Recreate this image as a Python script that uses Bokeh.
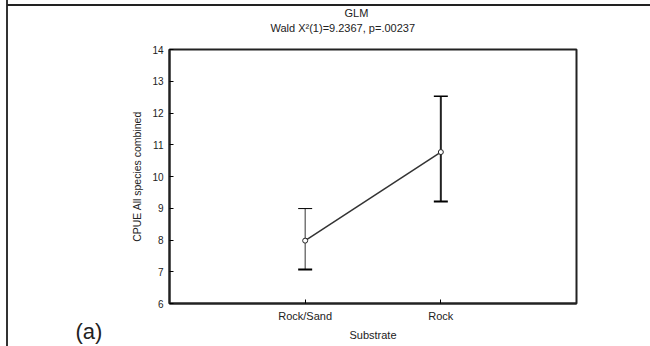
from bokeh.plotting import figure
from bokeh.models import Whisker, ColumnDataSource, FixedTicker, Title
from bokeh.embed import file_html
from bokeh.resources import INLINE

categories = ["Rock/Sand", "Rock"]
means = [7.98, 10.77]
upper = [8.99, 12.53]
lower = [7.07, 9.21]
y_ticks = [6, 7, 8, 9, 10, 11, 12, 13, 14]

xpos = [1, 2]
src = ColumnDataSource(dict(x=xpos, m=means, up=upper, lo=lower))

FONT = "Liberation Sans"
FL, FB = 169, 303  # frame left / bottom in canvas px

p = figure(width=650, height=346, output_backend="svg", toolbar_location=None,
           x_range=(0, 3), y_range=(6, 14),
           min_border_left=FL, min_border_right=74, min_border_top=49, min_border_bottom=346 - FB)
p.grid.visible = False
p.outline_line_color = "#222222"
p.outline_line_width = 2
p.border_fill_alpha = 0
p.background_fill_color = "white"
p.styles = {
    "background": "linear-gradient(#222222,#222222) 7px 4px / 643px 2px no-repeat, "
                  "linear-gradient(#333333,#333333) 6px 0px / 2px 346px no-repeat, white",
}

p.title.text = "GLM"
p.title.align = "left"
p.title.offset = 175
p.title.standoff = -29
p.title.vertical_align = "bottom"
p.title.text_font = FONT
p.title.text_font_size = "11px"
p.title.text_font_style = "normal"
p.title.text_color = "#222222"
p.add_layout(Title(text="Wald  X²(1)=9.2367, p=.00237", align="left", offset=101, standoff=31,
                   vertical_align="bottom", text_font=FONT, text_font_size="11px",
                   text_font_style="normal", text_color="#222222"), "above")

p.xaxis.ticker = FixedTicker(ticks=xpos)
p.xaxis.major_label_overrides = {1: categories[0], 2: categories[1]}
p.yaxis.ticker = FixedTicker(ticks=y_ticks)
for ax in (p.xaxis[0], p.yaxis[0]):
    ax.axis_line_color = "#222222"
    ax.axis_line_width = 2
    ax.major_tick_in = 4
    ax.major_tick_out = 0
    ax.minor_tick_line_color = None
    ax.major_label_text_font = FONT
    ax.major_label_text_color = "#222222"
    ax.axis_label_text_font = FONT
    ax.axis_label_text_font_style = "normal"
    ax.axis_label_text_color = "#222222"
p.xaxis.major_label_text_font_size = "11px"
p.yaxis.major_label_text_font_size = "10px"
p.xaxis.axis_label_text_font_size = "11px"
p.yaxis.axis_label_text_font_size = "10.5px"
p.xaxis.axis_label = "Substrate"
p.yaxis.axis_label = "CPUE All species combined"
p.xaxis.major_label_standoff = 6
p.xaxis.axis_label_standoff = 4
p.yaxis.major_label_standoff = 6
p.yaxis.axis_label_standoff = 6

# error bars
w1 = Whisker(base="x", upper="up", lower="lo",
             source=ColumnDataSource(dict(x=[1], up=[upper[0]], lo=[lower[0]])),
             line_color="#333333", line_width=1)
w1.upper_head.size = 14; w1.lower_head.size = 14
w1.upper_head.line_width = 1; w1.lower_head.line_width = 2
w2 = Whisker(base="x", upper="up", lower="lo",
             source=ColumnDataSource(dict(x=[2], up=[upper[1]], lo=[lower[1]])),
             line_color="#222222", line_width=2)
w2.upper_head.size = 14; w2.lower_head.size = 14
w2.upper_head.line_width = 1.5; w2.lower_head.line_width = 2
p.add_layout(w1); p.add_layout(w2)

p.line("x", "m", source=src, line_color="#333333", line_width=1.5)
p.scatter("x", "m", source=src, size=5, marker="circle", fill_color="white",
          line_color="#222222", line_width=1)

# panel tag "(a)" as a bottom title overlapping the axis band
p.add_layout(Title(text="(a)", align="left", offset=-94, standoff=-50, vertical_align="top",
                   text_font=FONT, text_font_size="22px", text_font_style="normal",
                   text_color="#222222"), "below")

open("out.html", "w").write(file_html(p, INLINE))
